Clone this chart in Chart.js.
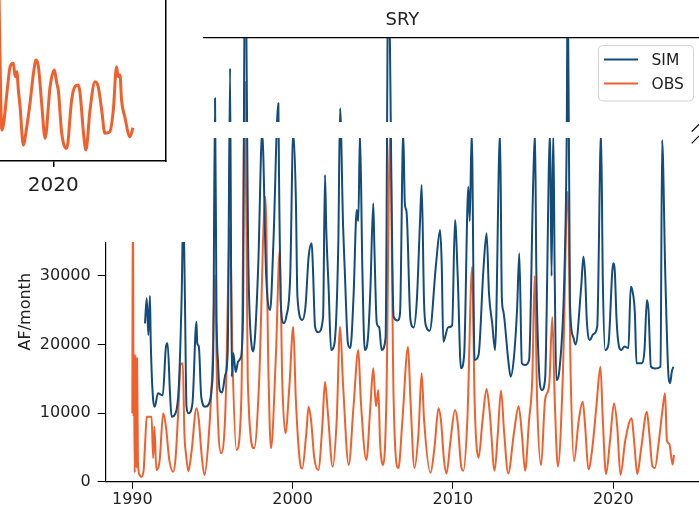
<!DOCTYPE html>
<html>
<head>
<meta charset="utf-8">
<script src="https://cdn.jsdelivr.net/npm/chart.js@4.4.1/dist/chart.umd.min.js"></script>
<style>
html, body { margin: 0; padding: 0; background: #fff; overflow: hidden; }
#wrap { position: relative; width: 699px; height: 509px; }
#main { position: absolute; left: 0; top: 0; }
#band { position: absolute; left: 203px; top: 122px; width: 487px; height: 16px; background: #fff; }
#cover { position: absolute; left: 0; top: 0; width: 203px; height: 242px; background: #fff; }
#inset { position: absolute; left: 0; top: 0; }
</style>
</head>
<body>
<div id="wrap">
  <canvas id="main" width="699" height="509"></canvas>
  <div id="band"></div>
  <div id="cover"><canvas id="inset" width="168" height="205"></canvas></div>
</div>
<script>
// SIM (simulated) series, decimal year -> AF/month
const simYears = [1990.79,1990.9,1991.0,1991.1,1991.15,1991.3,1991.4,1991.6,1991.9,1992.1,1992.2,1992.35,1992.45,1992.7,1992.9,
  1993.08,1993.18,1993.28,1993.38,1993.5,1993.75,1994.0,1994.05,1994.15,1994.3,1994.54,1994.75,1994.95,
  1995.05,1995.16,1995.25,1995.35,1995.45,1995.6,1995.8,1995.95,1996.1,1996.2,1996.3,1996.45,1996.6,1996.75,1996.9,
  1997.03,1997.24,1997.45,1997.55,1997.65,1997.86,1998.1,1998.35,1998.6,1998.8,1999.11,1999.15,1999.25,1999.45,1999.6,1999.85,
  2000.04,2000.2,2000.3,2000.6,2000.8,2001.0,2001.19,2001.27,2001.4,2001.6,2001.9,2002.02,2002.1,2002.25,2002.4,2002.6,2002.85,
  2002.96,2003.15,2003.25,2003.45,2003.6,2003.8,2004.0,2004.1,2004.2,2004.35,2004.5,2004.7,2004.85,
  2005.03,2005.1,2005.25,2005.4,2005.55,2005.8,2005.97,2006.3,2006.55,2006.7,2006.9,2007.0,2007.1,2007.15,2007.35,2007.55,2007.75,
  2007.95,2008.05,2008.2,2008.35,2008.55,2008.95,2009.2,2009.3,2009.4,2009.7,2009.95,2010.13,2010.3,2010.5,2010.7,
  2010.96,2011.05,2011.17,2011.35,2011.6,2011.9,2012.1,2012.25,2012.45,2012.63,2012.94,2013.05,2013.15,2013.45,2013.6,2013.8,
  2014.0,2014.14,2014.3,2014.5,2014.75,2015.0,2015.12,2015.2,2015.35,2015.55,2015.75,2016.06,2016.15,2016.26,2016.35,2016.45,2016.65,
  2016.95,2017.1,2017.16,2017.3,2017.5,2017.65,2018.0,2018.14,2018.25,2018.35,2018.55,2018.75,2019.0,2019.24,2019.35,2019.5,2019.7,
  2020.0,2020.1,2020.2,2020.3,2020.5,2020.7,2020.95,2021.09,2021.2,2021.35,2021.45,2021.8,2021.95,2022.1,2022.2,2022.35,2022.6,
  2022.95,2023.05,2023.25,2023.45,2023.55,2023.65,2023.75];
const simValues = [23090,26740,21390,27080,20410,11910,10940,12890,12600,19690,20180,12930,9480,10000,13850,
  27220,40000,26970,10940,9970,11400,23330,20180,19700,12390,10940,11200,13610,
  19200,55900,25030,17260,13370,13000,15600,18960,60270,15310,18760,16000,17500,18000,23580,
  80000,31840,19690,19000,21000,31840,51000,30000,25030,34760,55170,45000,26490,23130,24000,30000,
  51000,41550,26970,23580,25500,32810,34760,31000,22600,21800,24000,44720,36700,28000,19200,20000,34760,
  54440,37180,31000,20180,19500,27000,39610,38000,51000,31000,19200,21000,27950,
  40590,34270,23090,22500,19200,21000,75000,24060,23500,24500,51000,40590,39500,37500,23580,22500,26500,
  38150,43260,26010,22500,22000,31840,36700,31800,20410,22500,22800,38150,29890,16530,18500,
  43010,38000,51000,17740,18500,30870,36220,27470,23090,19200,51000,26970,24800,17740,15310,18000,
  25030,33300,17260,17000,17740,43010,51000,31350,17260,13370,15000,51000,30000,51000,29890,14830,16500,
  29890,51000,75000,26000,21140,20000,28430,32810,30000,23580,20660,21500,22600,51000,29410,19200,20000,
  31840,30620,24060,20660,19200,19700,19500,28430,27800,24550,17260,17260,19200,26490,25000,16770,16500,
  16770,49820,29890,15310,14350,16000,16770];

// OBS (observed) series
const obsYears = [1990.0,1990.04,1990.08,1990.1,1990.15,1990.2,1990.25,1990.3,1990.35,1990.45,1990.55,1990.7,1990.8,1990.9,
  1991.2,1991.3,1991.38,1991.5,1991.7,1991.93,1992.1,1992.3,1992.55,1992.7,1992.9,1993.0,1993.15,1993.25,1993.35,1993.5,1993.7,
  1994.0,1994.15,1994.3,1994.5,1994.75,1995.0,1995.16,1995.3,1995.55,1995.8,1996.1,1996.25,1996.5,1996.8,1997.03,1997.2,1997.6,1997.9,
  1998.3,1998.5,1998.65,1998.95,1999.2,1999.35,1999.55,1999.8,2000.04,2000.2,2000.45,2000.6,2000.85,2001.0,2001.15,2001.35,2001.6,2001.85,
  2002.02,2002.2,2002.5,2002.75,2002.96,2003.15,2003.5,2003.8,2004.1,2004.25,2004.6,2004.85,2005.03,2005.2,2005.35,2005.45,2005.65,2005.85,
  2006.08,2006.3,2006.6,2006.85,2007.2,2007.35,2007.6,2007.85,2008.05,2008.2,2008.6,2008.85,2009.1,2009.25,2009.45,2009.6,2009.85,
  2010.13,2010.3,2010.5,2010.65,2010.9,2011.2,2011.35,2011.6,2011.85,2012.1,2012.3,2012.6,2012.8,2013.0,2013.2,2013.45,2013.8,
  2014.1,2014.3,2014.5,2014.75,2014.95,2015.1,2015.25,2015.5,2015.75,2016.0,2016.2,2016.35,2016.55,2016.85,2017.16,2017.35,2017.55,2017.85,
  2018.1,2018.25,2018.45,2018.7,2018.95,2019.2,2019.35,2019.55,2019.8,2020.05,2020.25,2020.45,2020.75,2021.15,2021.3,2021.5,2021.75,
  2022.1,2022.25,2022.45,2022.6,2022.85,2023.05,2023.23,2023.35,2023.5,2023.7,2023.79];
const obsValues = [9970,45000,9500,18750,1300,18500,2000,18000,3000,1000,700,1500,5600,9480,
  9480,3450,8000,1700,3000,9970,8000,3300,1440,3500,12000,17000,17260,7000,4000,1500,4500,
  10700,9000,4500,970,6000,17000,30140,12000,4140,10000,37180,18000,4620,12000,58280,15000,4860,14000,
  41550,15000,4860,18000,33780,15000,7050,14000,22600,12000,3000,1920,7000,10940,9000,3500,1700,8000,
  14580,10000,2190,9000,22600,14000,2430,11000,19200,12000,3160,11000,16530,11000,13370,6000,2430,12000,
  51000,12000,2000,9000,19690,12000,2000,7000,15800,9000,1300,5000,10700,9000,3000,1200,6000,
  10450,8500,2500,1600,9000,31350,12000,3500,9000,13500,10000,1600,7000,13300,7000,1200,7000,
  11000,7000,1600,9000,15000,30000,12000,2400,12000,14000,24000,12000,2200,15000,42280,15000,3000,9000,
  11660,8000,1800,5000,11000,16770,9000,1100,6000,11430,8000,1000,6000,9240,6000,1100,5000,
  10210,7000,2200,2000,6000,10000,12890,6000,5500,2500,3890];

// inset panel (neighbouring subplot, observed flow)
const insetYears = [2017.45,2017.62,2017.70,2017.85,2018.0,2018.15,2018.23,2018.31,2018.38,2018.46,2018.61,2018.77,2018.92,
  2019.08,2019.2,2019.31,2019.46,2019.62,2019.85,2020.05,2020.16,2020.23,2020.39,2020.62,2020.85,2021.0,2021.16,2021.24,
  2021.4,2021.51,2021.7,2021.93,2022.08,2022.24,2022.39,2022.62,2022.78,2022.93,2023.0,2023.09,2023.16,2023.31,2023.55,2023.69];
const insetValues = [26000,3850,4680,8410,11720,12140,10470,11100,8820,6750,1990,4260,7170,
  10890,12550,11720,7170,2810,9230,11300,9650,8820,3440,1570,7580,9230,9440,8410,
  3440,1370,6340,9860,9230,6340,3440,3650,6340,11720,10470,10680,7580,5510,3020,4140];

const xTicks = [1990, 2000, 2010, 2020];
const yTicks = [0, 10000, 20000, 30000, 40000, 50000, 60000];
const xTicksInset = [2020];

const simColor = '#134b7b';
const obsColor = '#f0602c';
const fontFamily = "'DejaVu Sans', sans-serif";

Chart.defaults.font.family = fontFamily;
Chart.defaults.color = '#222';

function toPoints(xs, ys) {
    return xs.map((x, i) => ({ x: x, y: ys[i] }));
}

function fixedTicks(values) {
    return s => { s.ticks = values.map(v => ({ value: v })); };
}

// legend box, y label and the axis-break marks drawn on top
const overlayPlugin = {
    id: 'overlay',
    afterDraw(chart) {
        const ctx = chart.ctx;
        ctx.save();
        ctx.translate(26, 311.7);
        ctx.rotate(-Math.PI / 2);
        ctx.font = '16px ' + fontFamily;
        ctx.fillStyle = '#222';
        ctx.textAlign = 'center';
        ctx.textBaseline = 'middle';
        ctx.fillText('AF/month', 0, 0);
        ctx.restore();

        ctx.save();
        ctx.beginPath();
        ctx.roundRect(598.5, 45.5, 95, 55.5, 4);
        ctx.fillStyle = 'rgba(255,255,255,0.8)';
        ctx.fill();
        ctx.strokeStyle = '#d3d3d3';
        ctx.lineWidth = 1;
        ctx.stroke();
        ctx.font = '15.5px ' + fontFamily;
        ctx.textBaseline = 'middle';
        ctx.fillStyle = '#222';
        chart.data.datasets.forEach((ds, i) => {
            const y = 59.5 + i * 24;
            ctx.beginPath();
            ctx.moveTo(604, y);
            ctx.lineTo(638, y);
            ctx.strokeStyle = ds.borderColor;
            ctx.lineWidth = 2;
            ctx.stroke();
            ctx.fillText(ds.label, 651.5, y + 1);
        });

        ctx.strokeStyle = '#000';
        ctx.lineWidth = 1.2;
        ctx.beginPath();
        ctx.moveTo(691.7, 131.7); ctx.lineTo(700, 123.3);
        ctx.moveTo(691.7, 143.3); ctx.lineTo(700, 135);
        ctx.stroke();
        ctx.restore();
    }
};

const mainChart = new Chart(document.getElementById('main'), {
    type: 'line',
    data: {
        datasets: [
            { label: 'SIM', data: toPoints(simYears, simValues), borderColor: simColor, borderWidth: 2,
              pointRadius: 0, borderJoinStyle: 'round', cubicInterpolationMode: 'monotone', clip: 0 },
            { label: 'OBS', data: toPoints(obsYears, obsValues), borderColor: obsColor, borderWidth: 2,
              pointRadius: 0, borderJoinStyle: 'round', cubicInterpolationMode: 'monotone', clip: 0 }
        ]
    },
    options: {
        responsive: false,
        animation: false,
        devicePixelRatio: 1,
        layout: { padding: 0 },
        plugins: {
            legend: { display: false },
            tooltip: { enabled: false },
            title: {
                display: true, text: 'SRY', fullSize: false, color: '#222',
                font: { size: 18, weight: 'normal' },
                padding: { top: 10, bottom: 6.4 }
            }
        },
        scales: {
            x: {
                type: 'linear', position: 'bottom', min: 1988.34, max: 2025.35,
                afterBuildTicks: fixedTicks(xTicks),
                ticks: { autoSkip: false, maxRotation: 0, font: { size: 16 }, padding: 1.5,
                         callback: v => String(v) },
                grid: { drawOnChartArea: false, tickLength: 7, color: '#000' },
                border: { color: '#000', width: 1.2 },
                afterFit: s => { s.height = 27.3; }
            },
            xTop: {
                type: 'linear', position: 'top', min: 1988.34, max: 2025.35,
                ticks: { display: false },
                grid: { drawOnChartArea: false, drawTicks: false },
                border: { display: true, color: '#000', width: 1.2 },
                afterFit: s => { s.height = 0; }
            },
            y: {
                type: 'linear', position: 'left', min: 0, max: 64700,
                afterBuildTicks: fixedTicks(yTicks),
                ticks: { autoSkip: false, font: { size: 16 }, padding: 7, callback: v => String(v) },
                grid: { drawOnChartArea: false, tickLength: 8, color: '#000' },
                border: { color: '#000', width: 1.2 },
                afterFit: s => { s.width = 105.7; }
            }
        }
    },
    plugins: [overlayPlugin]
});

const insetChart = new Chart(document.getElementById('inset'), {
    type: 'line',
    data: {
        datasets: [
            { label: 'OBS', data: toPoints(insetYears, insetValues), borderColor: obsColor, borderWidth: 3,
              pointRadius: 0, borderJoinStyle: 'round', cubicInterpolationMode: 'monotone', clip: 0 }
        ]
    },
    options: {
        responsive: false,
        animation: false,
        devicePixelRatio: 1,
        layout: { padding: 0 },
        plugins: { legend: { display: false }, tooltip: { enabled: false }, title: { display: false } },
        scales: {
            x: {
                type: 'linear', min: 2017.53, max: 2025.22,
                afterBuildTicks: fixedTicks(xTicksInset),
                ticks: { font: { size: 20 }, padding: 6.5, maxRotation: 0, autoSkip: false, callback: v => String(v) },
                grid: { drawOnChartArea: false, tickLength: 6, color: '#000', lineWidth: 1.5 },
                border: { color: '#000', width: 1.5 },
                afterFit: s => { s.height = 44; }
            },
            y: {
                type: 'linear', position: 'right', min: 0, max: 20000,
                ticks: { display: false },
                grid: { drawOnChartArea: false, drawTicks: false },
                border: { display: true, color: '#000', width: 1.5 },
                afterFit: s => { s.width = 2; }
            }
        }
    }
});
</script>
</body>
</html>
